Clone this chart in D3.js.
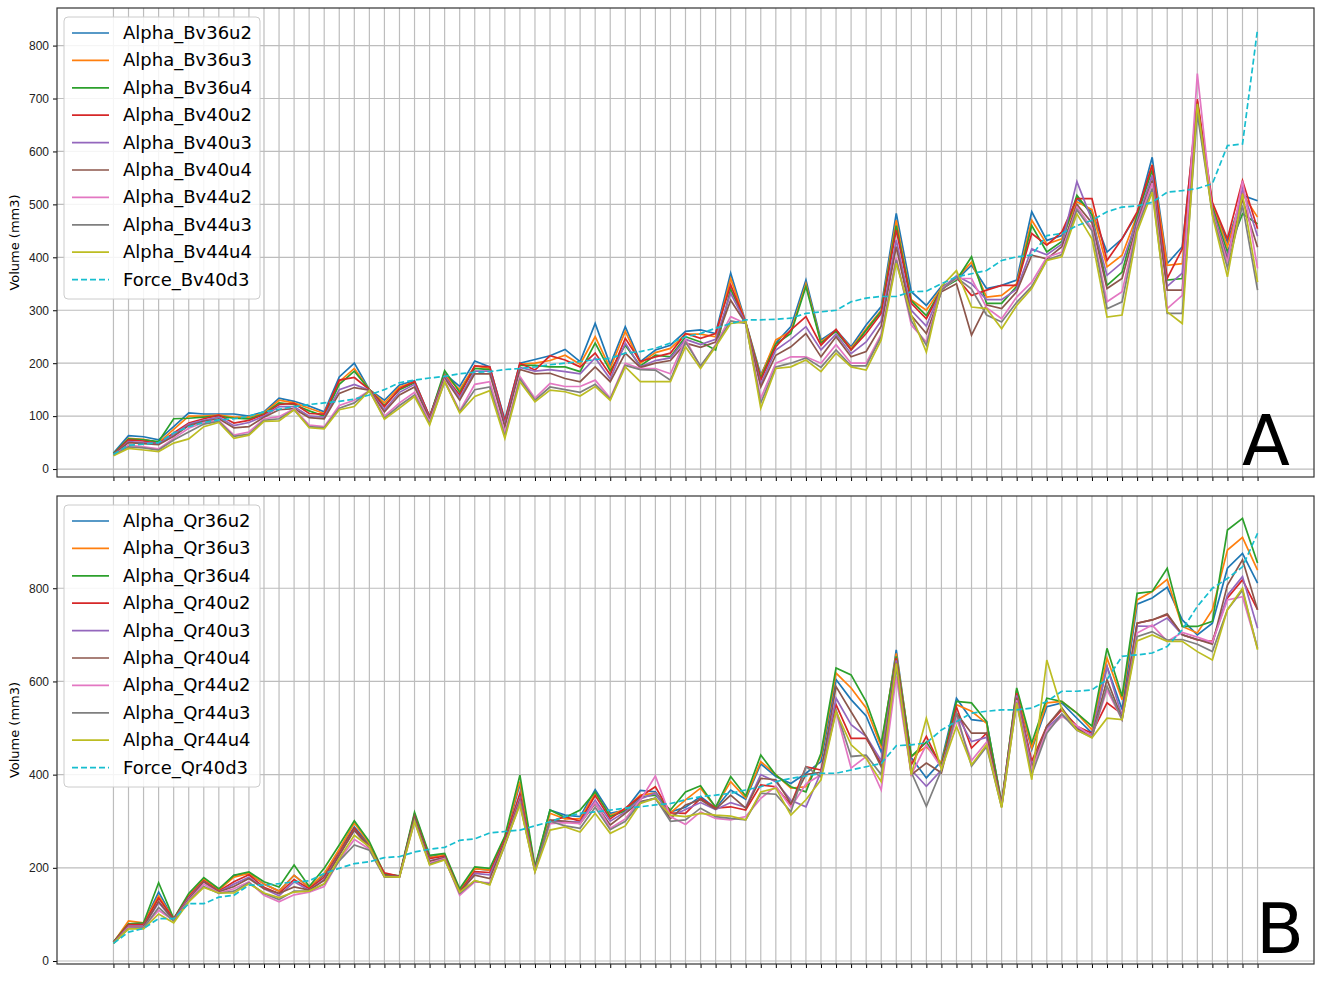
<!DOCTYPE html>
<html><head><meta charset="utf-8">
<script src="https://cdn.jsdelivr.net/npm/d3@7"></script>
<style>body{margin:0;background:#fff}svg{font-family:"DejaVu Sans",sans-serif}</style>
</head><body><svg id="c" width="1324" height="1006"></svg>
<script>
const seriesNamesA=["Alpha_Bv36u2","Alpha_Bv36u3","Alpha_Bv36u4","Alpha_Bv40u2","Alpha_Bv40u3","Alpha_Bv40u4","Alpha_Bv44u2","Alpha_Bv44u3","Alpha_Bv44u4","Force_Bv40d3"];
const seriesNamesB=["Alpha_Qr36u2","Alpha_Qr36u3","Alpha_Qr36u4","Alpha_Qr40u2","Alpha_Qr40u3","Alpha_Qr40u4","Alpha_Qr44u2","Alpha_Qr44u3","Alpha_Qr44u4","Force_Qr40d3"];
const colors=["#1f77b4","#ff7f0e","#2ca02c","#d62728","#9467bd","#8c564b","#e377c2","#7f7f7f","#bcbd22","#17becf"];
const ticksA=[0,100,200,300,400,500,600,700,800];
const ticksB=[0,200,400,600,800];
// rows: one per sample, columns in series order
const rowsA=[
[30,28,29,28,27,27,26,26,25,28],[63,58,57,55,52,50,45,42,39,45],[61,56,55,53,50,48,42,40,36,47],[55,50,52,48,48,46,38,36,33,50],
[80,75,95,68,65,62,58,55,49,68],[106,100,96,87,85,82,77,70,57,80],[104,100,98,95,92,90,88,85,80,88],[104,102,100,102,98,95,92,90,88,93],
[104,98,96,87,82,78,64,62,58,95],[100,98,95,92,88,80,70,66,64,100],[108,106,104,103,100,98,95,92,90,108],[134,130,125,122,118,112,99,95,91,113],
[128,125,122,124,118,114,114,112,112,118],[119,115,110,105,100,97,83,80,78,122],[108,105,100,104,98,95,80,78,76,125],[174,165,160,168,150,143,120,115,112,128],
[200,190,185,173,160,154,130,125,118,132],[150,150,150,150,149,149,148,148,148,140],[130,125,120,118,112,108,100,96,94,150],[159,155,150,152,145,140,125,120,115,163],
[167,165,163,165,160,155,145,140,137,168],[99,98,97,99,96,95,90,86,83,172],[180,178,186,176,175,172,168,165,165,175],[156,150,145,140,135,130,110,108,106,180],
[204,195,190,195,185,180,160,150,137,183],[193,190,188,193,185,180,165,155,148,184],[93,88,86,90,84,80,68,62,58,188],[200,198,196,200,192,188,175,170,165,190],
[207,200,196,187,185,180,134,130,127,193],[214,205,193,214,188,181,162,155,149,197],[226,215,193,206,184,171,156,150,146,200],[203,198,184,193,180,165,156,145,138,203],
[275,250,238,219,210,193,168,160,156,207],[197,190,185,178,170,165,134,132,130,209],[269,260,234,247,238,219,200,196,193,219],[203,200,195,203,193,192,190,188,165,222],
[225,220,215,212,205,200,190,187,165,228],[234,228,212,219,210,205,180,168,165,238],[260,255,250,256,245,238,245,240,231,250],[263,255,240,247,235,230,193,195,190,256],
[256,250,225,256,245,240,235,233,231,266],[370,360,340,348,332,319,288,280,275,275],[278,277,276,277,276,275,275,275,278,282],[178,175,172,168,160,155,134,125,115,282],
[238,244,236,231,225,215,200,193,190,283],[269,260,256,263,245,231,212,200,193,285],[357,350,345,288,269,256,212,210,206,294],[244,240,238,234,225,212,200,192,184,297],
[263,262,260,264,255,250,235,225,219,300],[231,228,225,225,218,212,200,195,193,316],[272,265,262,256,240,222,200,195,187,323],[307,300,298,294,280,270,255,250,244,326],
[483,470,460,452,433,420,400,395,389,326],[335,320,318,313,300,290,272,280,291,335],[309,300,290,284,270,256,240,234,221,336],[345,342,340,338,340,335,340,338,345,350],
[357,360,357,362,365,350,360,362,375,363],[385,391,401,328,350,253,360,340,306,369],[341,325,313,338,320,310,305,291,303,375],[347,328,313,347,320,303,284,278,265,394],
[357,350,345,347,340,335,325,315,309,401],[486,470,460,445,416,404,353,345,341,404],[432,425,410,423,405,397,400,395,394,441],[441,435,430,448,425,420,410,405,401,445],
[511,505,517,511,543,500,495,490,482,460],[486,490,480,511,470,465,455,450,435,470],[410,382,347,394,366,341,316,303,287,486],[435,404,372,435,390,360,335,316,291,495],
[482,480,478,486,470,465,460,455,448,497],[589,575,565,574,555,545,540,530,523,504],[388,385,357,360,345,338,303,294,297,523],[420,388,360,416,370,338,328,294,275,526],
[690,695,685,699,680,690,747,671,690,530],[498,500,495,504,490,485,485,482,479,539],[429,420,410,435,400,395,390,380,363,611],[517,520,482,545,530,510,545,498,520,614],
[507,476,463,454,440,419,379,338,353,831]];
const rowsB=[
[40,40,41,40,39,39,38,38,38,38],[80,86,80,78,75,74,72,70,69,62],[80,82,82,78,75,74,72,71,69,70],[148,140,168,135,125,128,109,115,101,91],
[90,90,91,90,88,88,87,86,82,91],[140,140,145,138,135,132,130,128,127,123],[175,175,179,172,170,170,165,160,158,123],[152,152,155,150,148,148,146,145,146,137],
[184,180,184,170,165,160,155,150,146,141],[188,188,191,185,180,177,170,168,166,163],[165,165,170,158,155,155,141,145,146,163],[150,150,159,145,140,145,127,132,136,166],
[184,184,206,175,170,159,142,150,148,170],[158,158,160,155,152,152,148,150,150,172],[185,188,199,180,175,173,160,165,166,188],[238,240,249,232,228,227,217,215,220,199],
[288,296,301,285,280,281,261,249,270,209],[250,252,256,245,242,245,240,238,245,213],[185,185,187,189,182,183,181,180,181,222],[182,182,183,182,181,181,180,180,180,224],
[315,315,319,310,305,310,300,302,299,234],[224,222,227,220,215,214,210,208,206,240],[228,228,231,225,222,222,220,218,217,244],[150,150,155,148,145,148,141,145,148,259],
[198,198,202,192,188,184,170,172,173,262],[195,195,199,190,185,177,168,165,163,275],[262,265,268,260,255,255,250,248,250,278],[380,385,399,360,350,345,340,338,335,281],
[198,200,202,196,195,194,193,192,191,290],[324,317,324,299,300,303,295,300,281,299],[313,305,308,310,300,300,297,290,288,310],[310,305,324,300,298,295,295,285,277,317],
[368,360,363,355,345,338,340,330,317,320],[317,313,310,305,300,292,285,282,274,324],[324,326,322,328,320,317,305,300,290,328],[366,356,352,353,348,342,345,340,338,331],
[363,360,356,374,360,349,397,350,349,335],[320,318,324,318,310,306,310,300,313,338],[330,346,363,317,325,335,293,303,310,346],[353,371,376,349,340,346,320,328,317,353],
[328,330,330,328,325,326,306,310,313,356],[367,385,396,331,340,356,303,306,311,360],[347,350,354,324,330,328,310,303,303,367],[423,428,442,378,400,392,349,360,363,374],
[396,400,399,374,385,389,375,358,371,385],[381,371,374,335,345,338,330,320,313,392],[403,374,363,417,331,400,380,417,346,397],[428,440,446,410,405,405,400,395,389,403],
[604,618,629,550,564,589,535,539,535,403],[561,586,614,478,507,535,414,439,464,410],[526,543,557,478,482,482,439,442,435,417],[449,460,467,424,430,417,367,400,385,424],
[668,660,654,650,645,640,611,630,639,462],[436,439,439,421,410,400,400,405,400,464],[393,460,470,482,375,425,464,332,521,468],[429,425,420,415,410,404,415,410,411,496],
[564,550,557,545,530,532,520,532,504,514],[518,536,554,457,471,489,430,418,421,532],[514,510,514,489,480,489,470,460,464,536],[340,338,336,335,333,332,331,330,329,539],
[580,582,586,575,570,565,560,555,554,539],[454,457,468,429,420,414,410,400,389,543],[546,554,564,504,500,504,495,489,646,557],[554,557,557,539,530,543,525,530,540,579],
[521,532,532,504,500,498,505,495,496,579],[489,496,504,489,485,482,482,480,479,582],[632,650,671,554,632,604,582,590,521,604],[540,561,568,530,525,520,518,518,518,654],
[766,775,789,725,719,725,704,696,687,657],[779,793,793,732,718,732,721,707,700,661],[802,819,843,743,736,745,686,689,686,675],[732,718,718,700,700,700,705,690,686,711],
[700,704,718,689,690,690,695,680,664,761],[725,754,729,686,682,680,684,664,646,800],[843,882,925,779,785,807,775,754,754,821],[875,909,950,818,825,861,782,796,800,846],
[811,839,854,754,714,754,671,671,668,918]];

const svg=d3.select("#c");
function panel(rows,names,ticks,top,bottom,yDom,letter,letterPos){
  const L=57,R=1314;
  const n=rows.length;
  const x=d3.scaleLinear().domain([-3.75,n-1+3.75]).range([L,R]);
  const y=d3.scaleLinear().domain(yDom).range([bottom,top]);
  const g=svg.append("g");
  g.selectAll(".vg").data(d3.range(n)).enter().append("line")
    .attr("x1",d=>x(d)).attr("x2",d=>x(d)).attr("y1",top).attr("y2",bottom)
    .attr("stroke","#bdbdbd").attr("stroke-width",1.2);
  g.selectAll(".hg").data(ticks).enter().append("line")
    .attr("x1",L).attr("x2",R).attr("y1",d=>y(d)).attr("y2",d=>y(d))
    .attr("stroke","#bdbdbd").attr("stroke-width",1.2);
  const ax=d3.axisLeft(y).tickValues(ticks).tickSize(4).tickPadding(4);
  const ag=g.append("g").attr("transform",`translate(${L},0)`).call(ax);
  ag.select(".domain").remove();
  ag.selectAll("text").attr("font-size",12).attr("fill","#222");
  const bx=d3.axisBottom(x).tickValues(d3.range(n)).tickSize(4).tickFormat("");
  const bg=g.append("g").attr("transform",`translate(0,${bottom})`).call(bx);
  bg.select(".domain").remove();
  g.append("rect").attr("x",L).attr("y",top).attr("width",R-L).attr("height",bottom-top)
    .attr("fill","none").attr("stroke","#333").attr("stroke-width",1.2);
  for(let s=0;s<names.length;s++){
    const line=d3.line().x((d,i)=>x(i)).y(d=>y(d[s]));
    g.append("path").datum(rows).attr("d",line).attr("fill","none")
      .attr("stroke",colors[s]).attr("stroke-width",1.7)
      .attr("stroke-dasharray",s===9?"6,3":null);
  }
  g.append("text").attr("transform",`translate(19,${(top+bottom)/2}) rotate(-90)`)
    .attr("text-anchor","middle").attr("font-size",13).text("Volume (mm3)");
  const lg=g.append("g").attr("transform",`translate(64,${top+9})`);
  lg.append("rect").attr("width",196).attr("height",282).attr("rx",4)
    .attr("fill","#fff").attr("fill-opacity",0.85).attr("stroke","#ccc");
  names.forEach((nm,i)=>{
    const yy=16+i*27.4;
    lg.append("line").attr("x1",8).attr("x2",45).attr("y1",yy).attr("y2",yy)
      .attr("stroke",colors[i]).attr("stroke-width",1.7).attr("stroke-dasharray",i===9?"6,3":null);
    lg.append("text").attr("x",59).attr("y",yy+6).attr("font-size",18).text(nm);
  });
  g.append("text").attr("x",letterPos[0]).attr("y",letterPos[1]).attr("text-anchor","middle")
    .attr("font-size",70).text(letter);
}
panel(rowsA,seriesNamesA,ticksA,8,477,[-15,871],"A",[1266,465]);
panel(rowsB,seriesNamesB,ticksB,496,964,[-6.4,998],"B",[1280,953]);
</script></body></html>
